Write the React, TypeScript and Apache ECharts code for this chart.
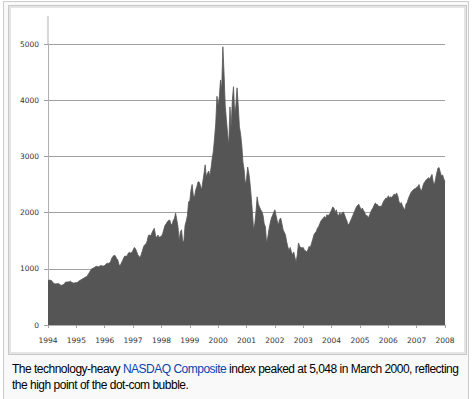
import React, { useEffect, useRef } from "react";
import * as echarts from "echarts";

// NASDAQ Composite, semi-monthly readings (24 per year), 1994 – 2007, plus the close at 2008
const startYear = 1994;
const samplesPerYear = 24;
const v1994 = [790, 800, 795, 790, 760, 740, 730, 735, 735, 740, 720, 705, 710, 720, 740, 765, 765, 765, 770, 780, 760, 750, 745, 752];
const v1995 = [755, 760, 780, 793, 805, 817, 830, 843, 855, 864, 900, 933, 970, 1001, 1010, 1020, 1035, 1044, 1040, 1036, 1050, 1059, 1050, 1052];
const v1996 = [1060, 1080, 1100, 1095, 1101, 1130, 1191, 1220, 1243, 1230, 1185, 1160, 1081, 1050, 1100, 1141, 1190, 1227, 1222, 1230, 1280, 1293, 1280, 1291];
const v1997 = [1330, 1380, 1360, 1310, 1250, 1222, 1200, 1261, 1330, 1400, 1430, 1442, 1500, 1594, 1600, 1587, 1640, 1686, 1720, 1594, 1550, 1601, 1560, 1570];
const v1998 = [1580, 1619, 1700, 1771, 1800, 1835, 1860, 1868, 1800, 1779, 1860, 1895, 1990, 1873, 1750, 1499, 1650, 1694, 1480, 1500, 1771, 1850, 1950, 2193];
const v1999 = [2200, 2400, 2500, 2300, 2280, 2400, 2461, 2550, 2542, 2480, 2400, 2550, 2686, 2850, 2638, 2700, 2739, 2650, 2800, 2966, 3100, 3336, 3600, 4069];
const v2000 = [3900, 4060, 4360, 4200, 4950, 4480, 3900, 3650, 3400, 3200, 3880, 3500, 4000, 4240, 3770, 3900, 4220, 3900, 3530, 3400, 3200, 2900, 2760, 2500];
const v2001 = [2600, 2810, 2700, 2520, 2280, 2000, 1700, 1800, 2000, 2280, 2150, 2100, 2050, 2020, 1950, 1800, 1750, 1460, 1560, 1700, 1810, 1900, 1950, 2000];
const v2002 = [2050, 1950, 1850, 1780, 1880, 1900, 1800, 1690, 1650, 1600, 1480, 1390, 1330, 1380, 1300, 1250, 1300, 1200, 1120, 1250, 1460, 1400, 1380, 1370];
const v2003 = [1380, 1330, 1320, 1300, 1340, 1400, 1380, 1450, 1520, 1600, 1640, 1660, 1720, 1750, 1800, 1850, 1880, 1900, 1930, 1900, 1960, 1950, 1960, 2000];
const v2004 = [2050, 2100, 2080, 2000, 2050, 1960, 1950, 2000, 1950, 2000, 2010, 1960, 1900, 1850, 1780, 1800, 1850, 1900, 1950, 2000, 2050, 2100, 2130, 2150];
const v2005 = [2100, 2050, 2080, 2040, 2000, 1950, 1950, 1900, 1950, 2000, 2050, 2080, 2130, 2170, 2150, 2140, 2100, 2120, 2100, 2150, 2200, 2230, 2260, 2250];
const v2006 = [2300, 2260, 2280, 2270, 2300, 2330, 2310, 2350, 2300, 2200, 2150, 2180, 2120, 2080, 2040, 2150, 2180, 2250, 2300, 2350, 2380, 2400, 2420, 2430];
const v2007 = [2450, 2460, 2500, 2420, 2380, 2450, 2520, 2550, 2580, 2600, 2620, 2600, 2640, 2680, 2550, 2490, 2600, 2700, 2790, 2800, 2720, 2650, 2670, 2600];
const vEnd = [2550];

const values = [
  ...v1994, ...v1995, ...v1996, ...v1997, ...v1998, ...v1999, ...v2000,
  ...v2001, ...v2002, ...v2003, ...v2004, ...v2005, ...v2006, ...v2007, ...vEnd,
];

const xMin = 1994;
const xMax = 2008;
const yMax = 5000;
const yInterval = 1000;

export default function App() {
  const ref = useRef<HTMLDivElement>(null);

  useEffect(() => {
    if (!ref.current) return;
    const chart = echarts.init(ref.current, null, { renderer: "svg" });
    const data = values.map((v, i) => [startYear + i / samplesPerYear, v]);
    chart.setOption({
      animation: false,
      grid: { left: 48, right: 28, top: 44, bottom: 74, containLabel: false },
      xAxis: {
        type: "value",
        min: xMin,
        max: xMax,
        interval: 1,
        axisLine: { show: true, lineStyle: { color: "#b0b0b0", width: 1 } },
        axisTick: { show: true, length: 3, lineStyle: { color: "#a0a0a0" } },
        splitLine: { show: false },
        axisLabel: {
          formatter: (v: number) => String(v),
          color: "#333",
          fontFamily: "DejaVu Sans",
          fontSize: 7.5,
          margin: 11,
        },
      },
      yAxis: {
        type: "value",
        min: 0,
        max: yMax,
        interval: yInterval,
        axisLine: { show: true, lineStyle: { color: "#b0b0b0", width: 1 } },
        axisTick: { show: true, length: 4, lineStyle: { color: "#a0a0a0" } },
        splitLine: { show: true, lineStyle: { color: "#a0a0a0", width: 1 } },
        axisLabel: {
          formatter: (v: number) => String(v),
          color: "#333",
          fontFamily: "DejaVu Sans",
          fontSize: 7.5,
          margin: 9,
        },
      },
      graphic: [
        {
          type: "line",
          shape: { x1: 48, y1: 16, x2: 48, y2: 44 },
          style: { stroke: "#b0b0b0", lineWidth: 1 },
          silent: true,
        },
      ],
      series: [
        {
          type: "line",
          data,
          showSymbol: false,
          symbol: "none",
          lineStyle: { color: "#555555", width: 0.8 },
          areaStyle: { color: "#555555", opacity: 1 },
          z: 3,
        },
      ],
    });
    return () => chart.dispose();
  }, []);

  return (
    <div style={{ position: "absolute", left: 0, top: 0, width: 473, height: 399, overflow: "hidden" }}>
      <div
        style={{
          position: "absolute",
          left: 3,
          top: 1,
          width: 466,
          height: 410,
          background: "#f9f9f9",
          border: "1px solid #cccccc",
          boxSizing: "border-box",
        }}
      />
      <div
        style={{
          position: "absolute",
          left: 8,
          top: 5,
          width: 459,
          height: 350,
          background: "#ffffff",
          border: "1px solid #c8c8c8",
          boxShadow: "inset 0 0 0 2px #e4e4e4",
          boxSizing: "border-box",
        }}
      />
      <div ref={ref} style={{ position: "absolute", left: 0, top: 0, width: 473, height: 399 }} />
      <div
        style={{
          position: "absolute",
          left: 12,
          top: 361,
          width: 455,
          fontFamily: "'Liberation Sans', Arial, sans-serif",
          fontSize: 12,
          letterSpacing: "-0.5px",
          lineHeight: "16px",
          color: "#000",
          whiteSpace: "nowrap",
        }}
      >
        The technology-heavy <span style={{ color: "#0645ad" }}>NASDAQ Composite</span> index peaked at 5,048 in March 2000, reflecting
        <br />
        the high point of the dot-com bubble.
      </div>
    </div>
  );
}
